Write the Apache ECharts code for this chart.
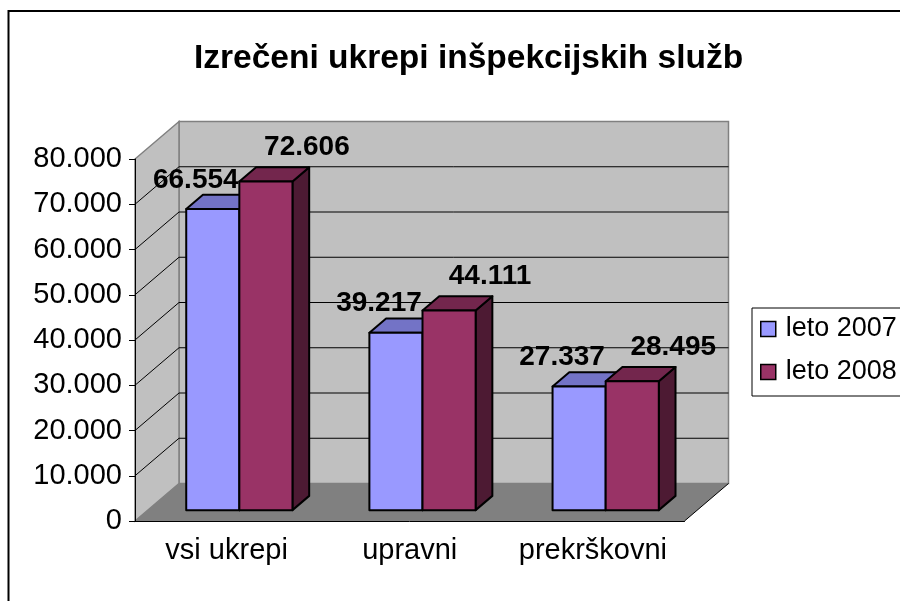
<!DOCTYPE html>
<html>
<head>
<meta charset="utf-8">
<title>Izrečeni ukrepi inšpekcijskih služb</title>
<script src="https://cdn.jsdelivr.net/npm/echarts@6/dist/echarts.min.js"></script>
<style>
  html, body { margin: 0; padding: 0; background: #fff; }
  #chart { width: 900px; height: 601px; }
</style>
</head>
<body>
<div id="chart"></div>
<script>
/*
 * podatki
 */
var categories = ['vsi ukrepi', 'upravni', 'prekrškovni'];
var seriesNames = ['leto 2007', 'leto 2008'];
var leto2007 = [66554, 39217, 27337];
var leto2008 = [72606, 44111, 28495];
var yMax = 80000;
var yStep = 10000;

var FONT = '"Liberation Sans", Arial, sans-serif';

// globina 3D prikaza (px)
var DX = 44;
var DY = -37.5;
var F0 = 0.29; // sprednja ploskev stolpca
var F1 = 0.67; // zadnja ploskev stolpca
var BAR_W = 0.29; // sirina stolpca glede na kategorijo

var colors = [
  { front: '#9999ff', top: '#7373c6', side: '#4d4d80' },
  { front: '#993366', top: '#73264d', side: '#4d1a33' }
];
// odmik napisov (x glede na sredino stolpca, y glede na vrh)
var labelShift = [
  { x: -17, y: -40 },
  { x: 41, y: -45 }
];

function fmt(v) {
  if (v === 0) return '0';
  var s = String(Math.round(v));
  return s.replace(/\B(?=(\d{3})+(?!\d))/g, '.');
}

function renderWalls(params, api) {
  var band = api.size([1, 0])[0];
  var p0 = api.coord([0, 0]);
  var L = p0[0] - band / 2;
  var R = L + band * categories.length;
  var y0 = p0[1];
  var yT = api.coord([0, yMax])[1];
  var children = [];
  children.push({
    type: 'rect',
    shape: { x: L + DX, y: yT + DY, width: R - L, height: y0 - yT },
    style: { fill: '#c0c0c0', stroke: '#808080', lineWidth: 1.5 }
  });
  children.push({
    type: 'polygon',
    shape: { points: [[L, y0], [L + DX, y0 + DY], [L + DX, yT + DY], [L, yT]] },
    style: { fill: '#c0c0c0', stroke: '#808080', lineWidth: 1.5 }
  });
  children.push({
    type: 'polygon',
    shape: { points: [[L, y0], [L + DX, y0 + DY], [R + DX, y0 + DY], [R, y0]] },
    style: { fill: '#808080' }
  });
  children.push({
    type: 'line',
    shape: { x1: R, y1: y0, x2: R + DX, y2: y0 + DY },
    style: { stroke: '#000', lineWidth: 1 }
  });
  for (var v = yStep; v < yMax; v += yStep) {
    var y = api.coord([0, v])[1];
    children.push({
      type: 'line',
      shape: { x1: L + DX, y1: y + DY, x2: R + DX, y2: y + DY },
      style: { stroke: '#000', lineWidth: 1 }
    });
    children.push({
      type: 'line',
      shape: { x1: L, y1: y, x2: L + DX, y2: y + DY },
      style: { stroke: '#000', lineWidth: 1 }
    });
  }
  return { type: 'group', children: children };
}

function makeBarRenderer(s) {
  return function (params, api) {
    var idx = api.value(0);
    var val = api.value(1);
    var band = api.size([1, 0])[0];
    var c = api.coord([idx, 0]);
    var t = api.coord([idx, val]);
    var bw = band * BAR_W;
    var x0 = c[0] + (s === 0 ? -bw : 0) + DX * F0;
    var yb = c[1] + DY * F0;
    var yt = t[1] + DY * F0;
    var ddx = DX * (F1 - F0);
    var ddy = DY * (F1 - F0);
    var line = { stroke: '#000', lineWidth: 2, lineJoin: 'round' };
    var col = colors[s];
    return {
      type: 'group',
      children: [
        {
          type: 'polygon',
          shape: { points: [[x0 + bw, yt], [x0 + bw + ddx, yt + ddy], [x0 + bw + ddx, yb + ddy], [x0 + bw, yb]] },
          style: Object.assign({ fill: col.side }, line)
        },
        {
          type: 'polygon',
          shape: { points: [[x0, yt], [x0 + bw, yt], [x0 + bw + ddx, yt + ddy], [x0 + ddx, yt + ddy]] },
          style: Object.assign({ fill: col.top }, line)
        },
        {
          type: 'rect',
          shape: { x: x0, y: yt, width: bw, height: yb - yt },
          style: Object.assign({ fill: col.front }, line)
        }
      ]
    };
  };
}

function renderLabel(params, api) {
  var idx = api.value(0);
  var val = api.value(1);
  var s = api.value(2);
  var band = api.size([1, 0])[0];
  var c = api.coord([idx, 0]);
  var t = api.coord([idx, val]);
  var bw = band * BAR_W;
  var cx = c[0] + (s === 0 ? -bw / 2 : bw / 2) + DX * F0;
  return {
    type: 'text',
    style: {
      text: fmt(val),
      x: cx + labelShift[s].x,
      y: t[1] + labelShift[s].y,
      textAlign: 'center',
      textVerticalAlign: 'middle',
      font: 'bold 28px ' + FONT,
      fill: '#000'
    }
  };
}

var labelData = leto2007.map(function (v, i) { return [i, v, 0]; })
  .concat(leto2008.map(function (v, i) { return [i, v, 1]; }));

var option = {
  animation: false,
  backgroundColor: '#fff',
  textStyle: { fontFamily: FONT },
  title: {
    text: 'Izrečeni ukrepi inšpekcijskih služb',
    left: 189,
    top: 37,
    textStyle: { fontFamily: FONT, fontSize: 33.5, fontWeight: 'bold', color: '#000' }
  },
  graphic: [{
    type: 'rect',
    shape: { x: 8.5, y: 11, width: 1000, height: 1000 },
    style: { fill: 'none', stroke: '#000', lineWidth: 2 },
    z: -10
  }],
  legend: {
    orient: 'vertical',
    left: 752,
    top: 308,
    padding: [6, 30, 9, 8],
    itemWidth: 15,
    itemHeight: 15,
    itemGap: 13,
    borderColor: '#000',
    borderWidth: 1,
    textStyle: { fontFamily: FONT, fontSize: 27, color: '#000', lineHeight: 30, padding: [0, 0, 0, 5] },
    data: seriesNames.map(function (n, i) {
      return { name: n, icon: 'rect', itemStyle: { color: colors[i].front, borderColor: '#000', borderWidth: 1.5 } };
    })
  },
  grid: { left: 135, right: 215.5, top: 159, bottom: 80 },
  xAxis: {
    type: 'category',
    data: categories,
    z: 5,
    axisLine: { lineStyle: { color: '#000', width: 1 } },
    axisTick: { length: 7, lineStyle: { color: '#000' } },
    axisLabel: { fontFamily: FONT, fontSize: 29, color: '#000', margin: 15, interval: 0, hideOverlap: false }
  },
  yAxis: {
    type: 'value',
    min: 0,
    max: yMax,
    interval: yStep,
    z: 5,
    axisLine: { show: true, lineStyle: { color: '#000', width: 1 } },
    axisTick: { show: true, length: 6, lineStyle: { color: '#000' } },
    splitLine: { show: false },
    axisLabel: { fontFamily: FONT, fontSize: 29, color: '#000', margin: 13, formatter: fmt }
  },
  series: [
    { type: 'custom', z: 1, renderItem: renderWalls, data: [[0, 0]], silent: true },
    { type: 'custom', name: seriesNames[0], z: 2, renderItem: makeBarRenderer(0),
      data: leto2007.map(function (v, i) { return [i, v]; }) },
    { type: 'custom', name: seriesNames[1], z: 3, renderItem: makeBarRenderer(1),
      data: leto2008.map(function (v, i) { return [i, v]; }) },
    { type: 'custom', z: 6, renderItem: renderLabel, data: labelData, silent: true }
  ]
};

var chart = echarts.init(document.getElementById('chart'));
chart.setOption(option);
</script>
</body>
</html>
